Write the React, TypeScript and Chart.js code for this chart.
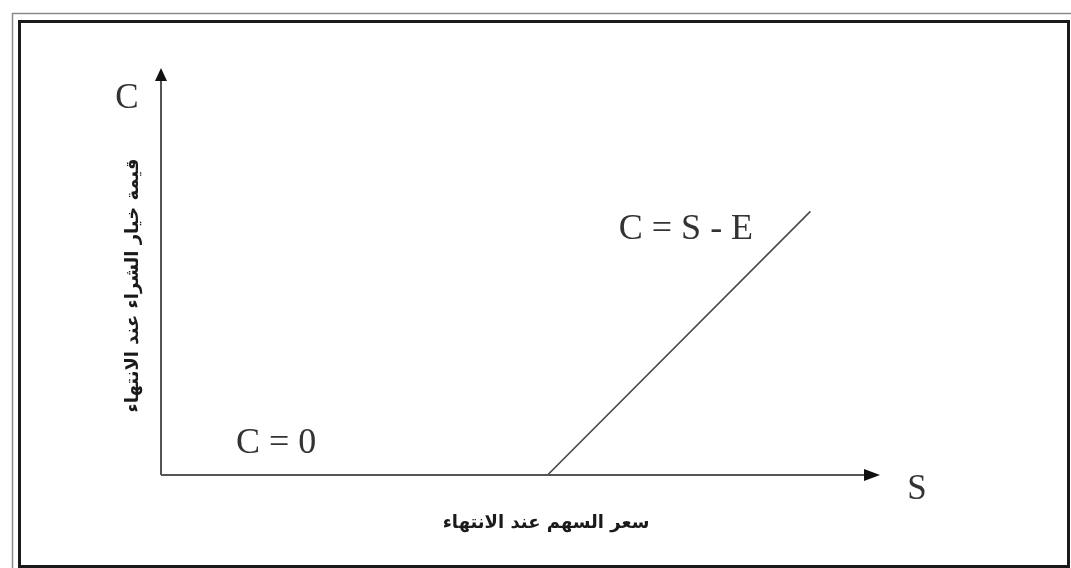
import React, { useEffect, useRef } from "react";
import { Chart, registerables } from "chart.js";

Chart.register(...registerables);

// Call option payoff at expiry: C = max(S - E, 0), with strike E = 50
const stockPrices = [0, 50, 84];
const callValues = [0, 0, 34];
const xRange = [0, 93];
const yRange = [0, 52.5];

const axisTitleX = "سعر السهم عند الانتهاء";
const axisTitleY = "قيمة خيار الشراء عند الانتهاء";
const zeroLabel = "C = 0";
const slopeLabel = "C = S - E";

const W = 1071;
const H = 568;

const decorations = {
  id: "payoffDecorations",
  beforeDraw(chart: any) {
    const { ctx } = chart;
    ctx.save();
    ctx.fillStyle = "#ffffff";
    ctx.fillRect(0, 0, W, H);
    // double frame
    ctx.strokeStyle = "#8a8a8a";
    ctx.lineWidth = 1.5;
    ctx.strokeRect(12.5, 13.5, W - 10, H - 6);
    ctx.strokeStyle = "#1a1a1a";
    ctx.lineWidth = 3;
    ctx.strokeRect(19.5, 21.5, W - 22, H - 23);
    ctx.restore();
  },
  afterDatasetsDraw(chart: any) {
    const { ctx, chartArea, scales } = chart;
    const x0 = scales.x.getPixelForValue(0);
    const y0 = scales.y.getPixelForValue(0);
    const { top, right } = chartArea;
    ctx.save();
    ctx.strokeStyle = "#555555";
    ctx.fillStyle = "#111111";
    ctx.lineWidth = 2;
    // y axis with arrow
    ctx.beginPath();
    ctx.moveTo(x0, y0);
    ctx.lineTo(x0, top + 10);
    ctx.stroke();
    ctx.beginPath();
    ctx.moveTo(x0, top);
    ctx.lineTo(x0 - 6, top + 13);
    ctx.lineTo(x0 + 6, top + 13);
    ctx.closePath();
    ctx.fill();
    // x axis with arrow
    ctx.beginPath();
    ctx.moveTo(x0, y0);
    ctx.lineTo(right - 10, y0);
    ctx.stroke();
    ctx.beginPath();
    ctx.moveTo(right, y0);
    ctx.lineTo(right - 16, y0 - 6);
    ctx.lineTo(right - 16, y0 + 6);
    ctx.closePath();
    ctx.fill();

    // axis letters
    ctx.fillStyle = "#333333";
    ctx.textAlign = "center";
    ctx.textBaseline = "middle";
    ctx.font = '35px "Liberation Serif"';
    ctx.fillText("C", x0 - 34, top + 31);
    ctx.fillText("S", right + 37, y0 + 15);

    // region labels
    ctx.font = '36px "Liberation Serif"';
    ctx.fillText(zeroLabel, scales.x.getPixelForValue(14.9), scales.y.getPixelForValue(4.0));
    ctx.fillText(slopeLabel, scales.x.getPixelForValue(67.9), scales.y.getPixelForValue(31.6));

    // Arabic axis titles
    ctx.fillStyle = "#1a1a1a";
    ctx.font = 'bold 18px "DejaVu Sans"';
    ctx.direction = "rtl";
    ctx.fillText(axisTitleX, x0 + 385, y0 + 48);
    ctx.translate(x0 - 28, (top + y0) / 2 + 14);
    ctx.rotate(-Math.PI / 2);
    ctx.fillText(axisTitleY, 0, 0);
    ctx.restore();
  },
};

export default function App() {
  const canvasRef = useRef<HTMLCanvasElement | null>(null);

  useEffect(() => {
    const canvas = canvasRef.current;
    if (!canvas) return;
    const chart = new Chart(canvas, {
      type: "scatter",
      data: {
        datasets: [
          {
            data: stockPrices.map((s, i) => ({ x: s, y: callValues[i] })),
            showLine: true,
            borderColor: "#4a4a4a",
            borderWidth: 1.6,
            pointRadius: 0,
            fill: false,
          },
        ],
      },
      options: {
        animation: false,
        responsive: false,
        events: [],
        layout: { padding: { left: 161, right: W - 880, top: 68, bottom: H - 475 } },
        plugins: { legend: { display: false }, tooltip: { enabled: false } },
        scales: {
          x: { type: "linear", min: xRange[0], max: xRange[1], display: false },
          y: { type: "linear", min: yRange[0], max: yRange[1], display: false },
        },
      },
      plugins: [decorations],
    });
    return () => chart.destroy();
  }, []);

  return (
    <div style={{ position: "fixed", left: 0, top: 0, width: W, height: H, background: "#fff" }}>
      <canvas ref={canvasRef} width={W} height={H} style={{ display: "block", width: W, height: H }} />
    </div>
  );
}
